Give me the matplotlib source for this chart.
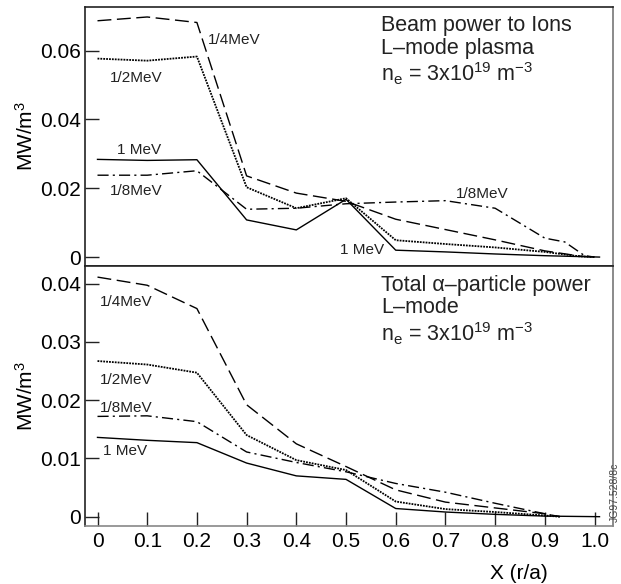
import matplotlib.pyplot as plt

plt.rcParams['font.family'] = ['Liberation Sans', 'DejaVu Sans']
plt.rcParams['mathtext.fontset'] = 'custom'
plt.rcParams['mathtext.rm'] = 'Liberation Sans'
plt.rcParams['mathtext.it'] = 'Liberation Sans'

# ---- top panel: beam power to ions ----
x_top = [0, 0.1, 0.2, 0.3, 0.4, 0.5, 0.6, 0.7, 0.8, 0.9, 0.97, 1.0]
ion_quarter = [0.0687, 0.0698, 0.0682, 0.0236, 0.0186, 0.0162, 0.0110, 0.0080, 0.0050, 0.0018, 0.0003, 0.0]
ion_half = [0.0577, 0.0571, 0.0583, 0.0203, 0.0142, 0.0171, 0.0049, 0.0038, 0.0028, 0.0015, 0.0002, 0.0]
x_top_8 = [0, 0.1, 0.2, 0.3, 0.4, 0.5, 0.6, 0.7, 0.8, 0.9, 0.94, 0.98, 1.0]
ion_eighth = [0.0238, 0.0238, 0.0251, 0.0139, 0.0142, 0.0155, 0.0160, 0.0164, 0.0142, 0.0055, 0.0044, 0.0004, 0.0]
x_top_1 = [0, 0.1, 0.2, 0.3, 0.4, 0.5, 0.6, 0.7, 0.8, 0.9, 1.01]
ion_one = [0.0284, 0.0281, 0.0283, 0.0108, 0.0079, 0.0168, 0.0020, 0.0015, 0.0009, 0.0004, 0.0]

# ---- bottom panel: total alpha-particle power ----
x_bot = [0, 0.1, 0.2, 0.3, 0.4, 0.5, 0.6, 0.7, 0.8, 0.9, 0.93]
alpha_quarter = [0.0411, 0.0397, 0.0357, 0.0192, 0.0125, 0.0086, 0.0046, 0.0025, 0.0015, 0.0005, 0.0]
alpha_half = [0.0267, 0.0261, 0.0247, 0.0140, 0.0097, 0.0080, 0.0026, 0.0013, 0.0008, 0.0002, 0.0]
alpha_eighth = [0.0172, 0.0173, 0.0163, 0.0111, 0.0093, 0.0077, 0.0057, 0.0042, 0.0023, 0.0005, 0.0]
x_bot_1 = [0, 0.1, 0.2, 0.3, 0.4, 0.5, 0.6, 0.7, 0.8, 0.9, 1.01]
alpha_one = [0.0136, 0.0131, 0.0127, 0.0092, 0.0070, 0.0064, 0.0014, 0.0008, 0.0004, 0.0001, 0.0]

x_ticks = [0, 0.1, 0.2, 0.3, 0.4, 0.5, 0.6, 0.7, 0.8, 0.9, 1.0]
x_ticklabels = ['0', '0.1', '0.2', '0.3', '0.4', '0.5', '0.6', '0.7', '0.8', '0.9', '1.0']

fig = plt.figure(figsize=(6.21, 5.84), dpi=100)
ax1 = fig.add_axes([0.137, 0.5445, 0.850, 0.4435])
ax2 = fig.add_axes([0.137, 0.0993, 0.850, 0.4452])

lw = 1.0
dash = (0, (10, 4))
dot = (0, (1, 0.6))
dashdot = (0, (8, 3, 1.5, 3))

ax1.plot(x_top, ion_quarter, color='black', lw=lw, ls=dash)
ax1.plot(x_top, ion_half, color='black', lw=1.3, ls=dot)
ax1.plot(x_top_8, ion_eighth, color='black', lw=lw, ls=dashdot)
ax1.plot(x_top_1, ion_one, color='black', lw=lw, ls='-')

ax2.plot(x_bot, alpha_quarter, color='black', lw=lw, ls=dash)
ax2.plot(x_bot, alpha_half, color='black', lw=1.3, ls=dot)
ax2.plot(x_bot, alpha_eighth, color='black', lw=lw, ls=dashdot)
ax2.plot(x_bot_1, alpha_one, color='black', lw=lw, ls='-')

ax1.set_xlim(-0.025, 1.037)
ax1.set_ylim(-0.0026, 0.0727)
ax2.set_xlim(-0.025, 1.037)
ax2.set_ylim(-0.0016, 0.0430)

ax1.set_yticks([0, 0.02, 0.04, 0.06])
ax1.set_yticklabels(['0', '0.02', '0.04', '0.06'])
ax1.set_xticks([])
ax2.set_yticks([0, 0.01, 0.02, 0.03, 0.04])
ax2.set_yticklabels(['0', '0.01', '0.02', '0.03', '0.04'])
ax2.set_xticks(x_ticks)
ax2.set_xticklabels(x_ticklabels)

for ax in (ax1, ax2):
    ax.tick_params(direction='in', length=10, width=1.0, labelsize=15, pad=4, color='#222222')
    ax.tick_params(axis='y', pad=3)
    ax.spines['right'].set_color('#777777')
    ax.spines['left'].set_color('#222222')
    ax.spines['top'].set_color('#222222')
    for s in ax.spines.values():
        s.set_linewidth(1.2)
ax1.spines['bottom'].set_color('#222222')
ax2.spines['bottom'].set_color('#888888')
ax2.tick_params(axis='x', pad=4)

ax1.set_ylabel('MW/m$^3$', fontsize=15, labelpad=2)
ax2.set_ylabel('MW/m$^3$', fontsize=15, labelpad=2)
ax2.set_xlabel('X (r/a)', fontsize=15, labelpad=9)
ax2.xaxis.set_label_coords(0.822, -0.145)

# curve labels
lab = dict(fontsize=11, color='#222222')
ax1.text(0.222, 0.0619, '1/4MeV', **lab)
ax1.text(0.025, 0.0510, '1/2MeV', **lab)
ax1.text(0.040, 0.0300, '1 MeV', **lab)
ax1.text(0.025, 0.0180, '1/8MeV', **lab)
ax1.text(0.722, 0.0172, '1/8MeV', **lab)
ax1.text(0.487, 0.0008, '1 MeV', **lab)

ax2.text(0.005, 0.0362, '1/4MeV', **lab)
ax2.text(0.005, 0.0227, '1/2MeV', **lab)
ax2.text(0.005, 0.0180, '1/8MeV', **lab)
ax2.text(0.012, 0.0105, '1 MeV', **lab)

dens = 'n$_\\mathregular{e}$ = 3x10$^\\mathregular{19}$ m$^\\mathregular{\u22123}$'
big = dict(fontsize=15.5, color='#222222', va='top', linespacing=1.1)
ax1.text(0.57, 0.0703, 'Beam power to Ions\nL\u2013mode plasma\n' + dens, **big)
ax2.text(0.57, 0.0415, 'Total \u03b1\u2013particle power\nL\u2013mode\n' + dens, **big)

fig.text(0.982, 0.106, 'JG97.528/8c', rotation=90, fontsize=7.5, color='#444444',
         ha='left', va='bottom')

fig.savefig('out.png', dpi=100)
